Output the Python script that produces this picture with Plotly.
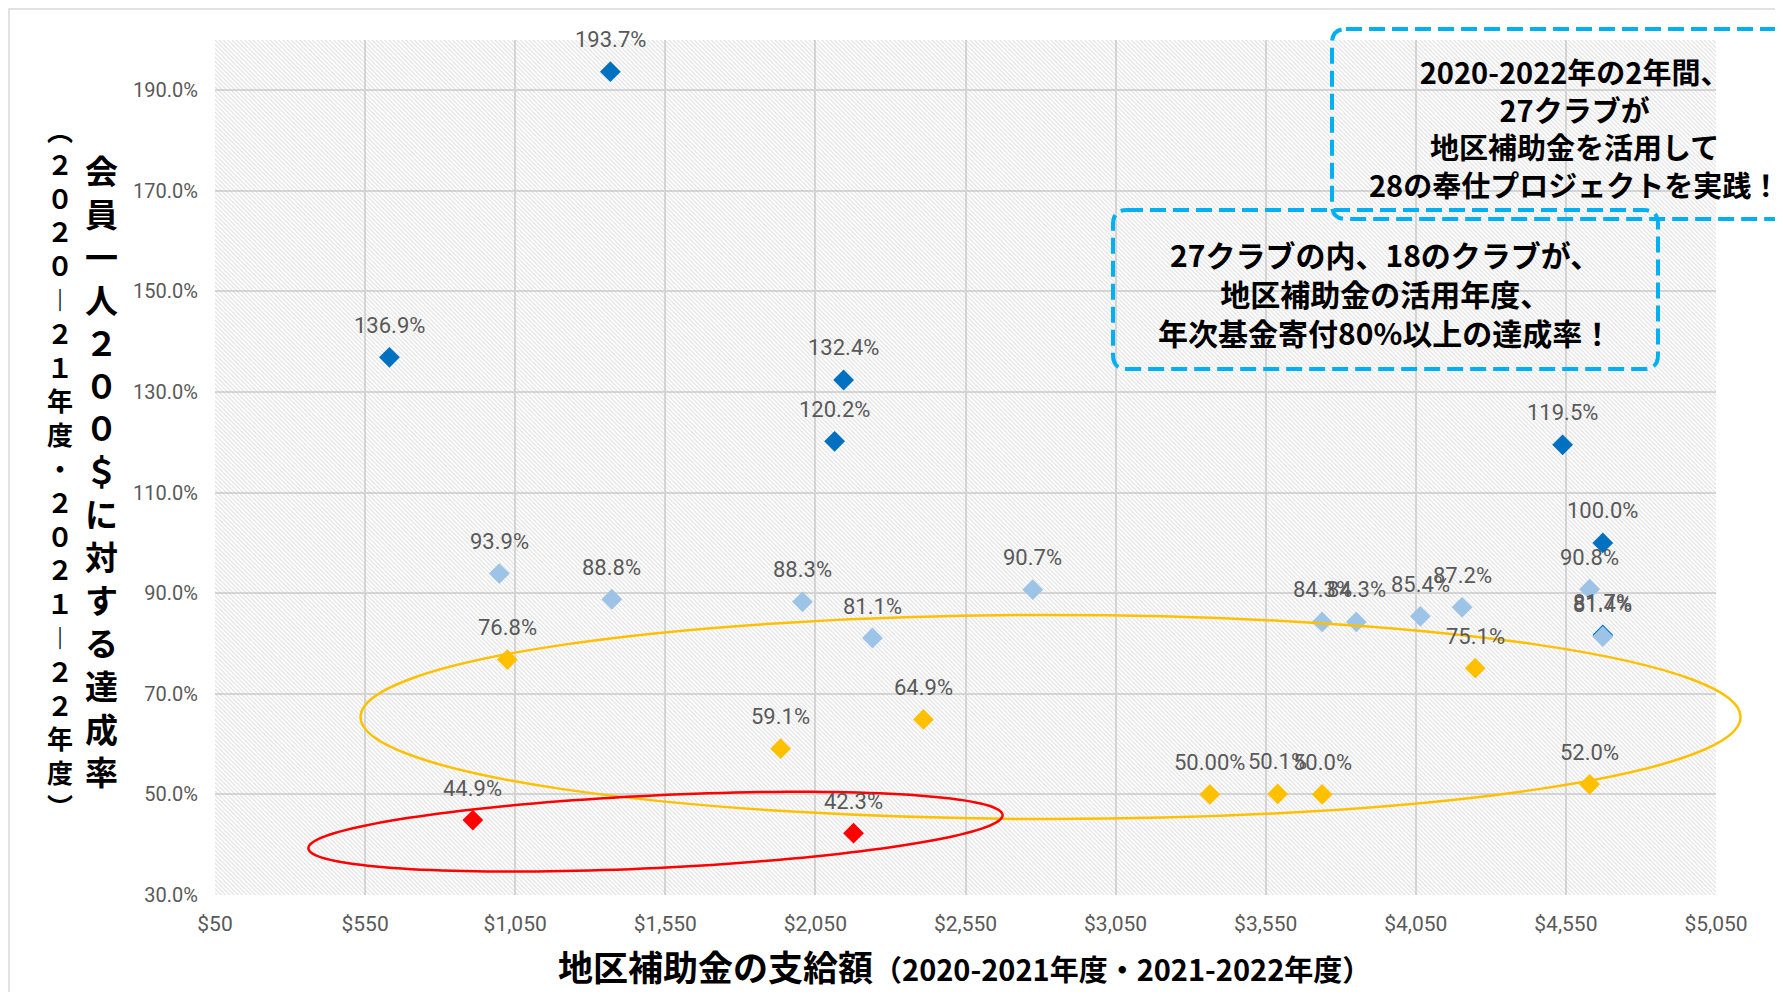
import math
import plotly.graph_objects as go

# ---------------- data ----------------
dark_x = [631, 1367, 2114, 2144, 4539, 4673, 4673]
dark_y = [136.9, 193.7, 120.2, 132.4, 119.5, 100.0, 81.7]
dark_labels = ["136.9%", "193.7%", "120.2%", "132.4%", "119.5%", "100.0%", "81.7%"]

light_x = [997, 1372, 2007, 2240, 2774, 3738, 3852, 4065, 4204, 4629, 4673]
light_y = [93.9, 88.8, 88.3, 81.1, 90.7, 84.3, 84.3, 85.4, 87.2, 90.8, 81.4]
light_labels = ["93.9%", "88.8%", "88.3%", "81.1%", "90.7%", "84.3%", "84.3%",
                "85.4%", "87.2%", "90.8%", "81.4%"]

yellow_x = [1024, 1934, 2410, 3364, 3590, 3738, 4248, 4629]
yellow_y = [76.8, 59.1, 64.9, 50.0, 50.1, 50.0, 75.1, 52.0]
yellow_labels = ["76.8%", "59.1%", "64.9%", "50.00%", "50.1%", "50.0%", "75.1%", "52.0%"]

red_x = [909, 2177]
red_y = [44.9, 42.3]
red_labels = ["44.9%", "42.3%"]

X_RANGE = [50, 5050]
Y_RANGE = [30, 200]
X_TICK0, X_DTICK = 50, 500
Y_TICK0, Y_DTICK = 30, 20

x_title_main = "地区補助金の支給額"
x_title_sub = "（2020-2021年度・2021-2022年度）"
y_title_main = "会員一人２００＄に対する達成率"
y_title_sub = ["︵", "２", "０", "２", "０", "︱", "２", "１", "年", "度", "・",
               "２", "０", "２", "１", "︱", "２", "２", "年", "度", "︶"]
box1_lines = ["2020-2022年の2年間、", "27クラブが", "地区補助金を活用して", "28の奉仕プロジェクトを実践！"]
box2_lines = ["27クラブの内、18のクラブが、", "地区補助金の活用年度、", "年次基金寄付80%以上の達成率！"]

# ---------------- layout geometry (page pixels) ----------------
OFF = 8                      # default body margin of the html page
FW, FH = 1783 - OFF, 1000 - 2 * OFF
L, R, T, B = 215, 1716, 40, 895   # plot area in page pixels


def px(x):
    return (x - L) / (R - L)


def py(y):
    return (B - y) / (B - T)


CJK = "Noto Sans CJK JP"
NUM = "Roboto, 'Noto Sans', sans-serif"
GRAY = "#595959"

fig = go.Figure()

# hatched plot background
fig.add_trace(go.Scatter(
    x=[X_RANGE[0], X_RANGE[1], X_RANGE[1], X_RANGE[0], X_RANGE[0]],
    y=[Y_RANGE[0], Y_RANGE[0], Y_RANGE[1], Y_RANGE[1], Y_RANGE[0]],
    mode="none", fill="toself", fillcolor="rgba(0,0,0,0)",
    fillpattern=dict(shape="\\", fgcolor="#bcbcbc", bgcolor="rgba(0,0,0,0)",
                     size=3, solidity=0.35),
    hoverinfo="skip", showlegend=False,
))

series = [
    (dark_x, dark_y, dark_labels, "#0070C0"),
    (light_x, light_y, light_labels, "#9DC3E6"),
    (yellow_x, yellow_y, yellow_labels, "#FFC000"),
    (red_x, red_y, red_labels, "#FF0000"),
]

annotations = []
for xs, ys, labs, col in series:
    fig.add_trace(go.Scatter(
        x=xs, y=ys, mode="markers",
        marker=dict(symbol="diamond", size=16, color=col, line=dict(width=0)),
        showlegend=False, hoverinfo="x+y",
    ))
    for xv, yv, lab in zip(xs, ys, labs):
        annotations.append(dict(
            x=xv, y=yv, xref="x", yref="y", text=lab, showarrow=False,
            yshift=32, font=dict(family=NUM, size=22, color=GRAY),
        ))

# text boxes
annotations.append(dict(
    x=px(1574), y=py(128), xref="paper", yref="paper",
    text="<br>".join(f"<b>{s}</b>" for s in box1_lines), showarrow=False,
    xanchor="center", yanchor="middle", align="center",
    font=dict(family=CJK, size=29, color="black"),
))
annotations.append(dict(
    x=px(1385), y=py(293), xref="paper", yref="paper",
    text="<br>".join(f"<b>{s}</b>" for s in box2_lines), showarrow=False,
    xanchor="center", yanchor="middle", align="center",
    font=dict(family=CJK, size=30, color="black"),
))

# axis titles
annotations.append(dict(
    x=px(964), y=py(965), xref="paper", yref="paper",
    text=f"<b>{x_title_main}</b><b><span style='font-size:29px'>{x_title_sub}</span></b>",
    showarrow=False, xanchor="center", yanchor="middle",
    font=dict(family=CJK, size=35, color="black"),
))
annotations.append(dict(
    x=px(102), y=py(471), xref="paper", yref="paper",
    text="<br>".join(f"<b>{c}</b>" for c in y_title_main),
    showarrow=False, xanchor="center", yanchor="middle", align="center",
    font=dict(family=CJK, size=33, color="black"),
))
annotations.append(dict(
    x=px(60), y=py(468), xref="paper", yref="paper",
    text="<br>".join(f"<b>{c}</b>" for c in y_title_sub),
    showarrow=False, xanchor="center", yanchor="middle", align="center",
    font=dict(family=CJK, size=26, color="black"),
))


def rrect(x0, y0, x1, y1, r):
    return (f"M {px(x0 + r)},{py(y0)} L {px(x1 - r)},{py(y0)} "
            f"Q {px(x1)},{py(y0)} {px(x1)},{py(y0 + r)} L {px(x1)},{py(y1 - r)} "
            f"Q {px(x1)},{py(y1)} {px(x1 - r)},{py(y1)} L {px(x0 + r)},{py(y1)} "
            f"Q {px(x0)},{py(y1)} {px(x0)},{py(y1 - r)} L {px(x0)},{py(y0 + r)} "
            f"Q {px(x0)},{py(y0)} {px(x0 + r)},{py(y0)} Z")


def ellipse_path(cx, cy, a, b, theta_deg, n=160):
    th = math.radians(theta_deg)
    pts = []
    for i in range(n):
        t = 2 * math.pi * i / n
        x = cx + a * math.cos(t) * math.cos(th) + b * math.sin(t) * math.sin(th)
        y = cy - a * math.cos(t) * math.sin(th) + b * math.sin(t) * math.cos(th)
        pts.append(f"{px(x):.5f},{py(y):.5f}")
    return "M " + " L ".join(pts) + " Z"


shapes = [
    # outer chart border
    dict(type="rect", xref="paper", yref="paper", x0=px(9), x1=px(1780), y0=py(1010), y1=py(9),
         line=dict(color="#d9d9d9", width=1.5), fillcolor="rgba(0,0,0,0)", layer="below"),
    # yellow ellipse
    dict(type="circle", xref="paper", yref="paper", x0=px(360.5), x1=px(1740.6),
         y0=py(819), y1=py(615), line=dict(color="#FFC000", width=2.5), layer="above"),
    # red ellipse (slightly tilted)
    dict(type="path", xref="paper", yref="paper", path=ellipse_path(655.5, 831.7, 347.5, 36.3, 2.75),
         line=dict(color="#FF0000", width=2.5), layer="above"),
    # dashed callout boxes
    dict(type="path", xref="paper", yref="paper", path=rrect(1332, 29, 1830, 219, 14),
         line=dict(color="#00B0F0", width=4, dash="16px,7px"), layer="above"),
    dict(type="path", xref="paper", yref="paper", path=rrect(1113, 210, 1658, 369, 14),
         line=dict(color="#00B0F0", width=4, dash="16px,7px"), layer="above"),
]

fig.update_layout(
    width=FW, height=FH, autosize=False,
    margin=dict(l=L - OFF, r=FW - (R - OFF), t=T - OFF, b=FH - (B - OFF)),
    paper_bgcolor="white", plot_bgcolor="white",
    showlegend=False,
    annotations=annotations,
    shapes=shapes,
    xaxis=dict(range=X_RANGE, tick0=X_TICK0, dtick=X_DTICK, tickmode="linear",
               tickprefix="$", tickformat=",d", showgrid=True, gridcolor="#d9d9d9",
               gridwidth=1.5, zeroline=False, showline=False, ticks="",
               tickfont=dict(family=NUM, size=21, color=GRAY), ticklabelstandoff=14,
               fixedrange=True),
    yaxis=dict(range=Y_RANGE, tick0=Y_TICK0, dtick=Y_DTICK, tickmode="linear",
               ticksuffix="%", tickformat=".1f", showgrid=True, gridcolor="#d9d9d9",
               gridwidth=1.5, zeroline=False, showline=False, ticks="",
               tickfont=dict(family=NUM, size=20, color=GRAY), ticklabelstandoff=16,
               fixedrange=True),
)

fig.write_html("out.html")
